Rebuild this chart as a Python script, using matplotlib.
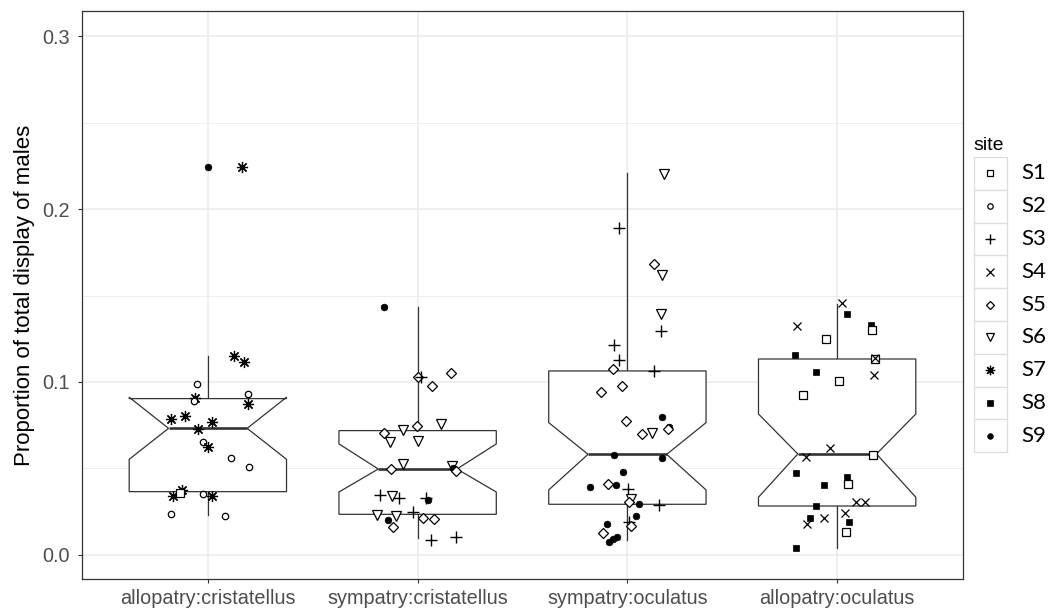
import matplotlib
matplotlib.use("Agg")
import matplotlib.pyplot as plt
from matplotlib.lines import Line2D
from matplotlib.patches import Rectangle, Polygon
import numpy as np

# ---------------- data ----------------
categories = ["allopatry:cristatellus", "sympatry:cristatellus",
              "sympatry:oculatus", "allopatry:oculatus"]
sites = ["S1", "S2", "S3", "S4", "S5", "S6", "S7", "S8", "S9"]

# box statistics (per category)
whisk_lo = [0.0231, 0.0096, 0.0087, 0.0039]
q1       = [0.0366, 0.0235, 0.0293, 0.0283]
notch_lo = [0.0553, 0.0364, 0.0376, 0.0334]
median   = [0.0732, 0.0497, 0.0582, 0.0584]
notch_hi = [0.0912, 0.0642, 0.0765, 0.0815]
q3       = [0.0904, 0.0719, 0.1064, 0.1133]
whisk_hi = [0.1150, 0.1435, 0.2206, 0.1451]

# jittered points: site, jitter offset, value (one set of lists per category)
g1_site = ["S9","S7","S7","S7","S2","S7","S2","S2","S7","S7","S7","S7","S7","S2",
           "S7","S2","S2","S7","S7","S1","S2","S7","S2","S2"]
g1_dx = [0.001,0.163,0.124,0.173,-0.054,-0.062,-0.065,0.192,0.192,-0.178,-0.110,0.020,
         -0.046,-0.025,-0.001,0.108,0.194,-0.168,-0.121,-0.133,-0.025,0.022,-0.178,0.080]
g1_y = [0.2241,0.2245,0.1150,0.1116,0.0987,0.0909,0.0892,0.0931,0.0871,0.0788,0.0805,
        0.0771,0.0727,0.0655,0.0626,0.0559,0.0511,0.0341,0.0376,0.0360,0.0351,0.0343,
        0.0235,0.0225]

g2_site = ["S9","S5","S3","S5","S5","S5","S6","S6","S5","S6","S6","S6","S5","S6","S9",
           "S5","S3","S6","S3","S3","S9","S3","S6","S6","S9","S5","S5","S5","S3","S3"]
g2_dx = [-0.162,0.003,0.018,0.161,0.068,-0.005,0.110,-0.070,-0.159,-0.132,0.001,-0.070,
         -0.125,0.165,0.168,0.181,-0.178,-0.121,-0.089,0.041,0.051,-0.022,-0.192,-0.105,
         -0.140,-0.118,0.025,0.078,0.062,0.181]
g2_y = [0.1432,0.1027,0.1029,0.1050,0.0977,0.0747,0.0757,0.0724,0.0703,0.0651,0.0661,
        0.0528,0.0497,0.0516,0.0501,0.0487,0.0349,0.0341,0.0329,0.0328,0.0316,0.0247,
        0.0229,0.0225,0.0202,0.0164,0.0212,0.0206,0.0087,0.0102]

g3_site = ["S6","S3","S5","S6","S6","S3","S3","S3","S5","S3","S5","S5","S5","S9","S5",
           "S6","S9","S5","S9","S9","S9","S9","S5","S9","S3","S6","S5","S9","S3","S9",
           "S3","S5","S9","S5","S9","S9","S9"]
g3_dx = [0.173,-0.038,0.129,0.165,0.161,0.161,-0.062,-0.038,-0.067,0.129,-0.025,-0.127,
         -0.006,0.165,0.068,0.116,0.199,0.192,-0.062,0.165,-0.022,-0.176,-0.094,-0.054,
         0.001,0.019,0.010,0.057,0.149,0.041,0.010,0.018,-0.097,-0.114,-0.086,-0.070,-0.051]
g3_y = [0.2201,0.1892,0.1682,0.1620,0.1395,0.1295,0.1214,0.1127,0.1073,0.1064,0.0979,
        0.0940,0.0776,0.0796,0.0699,0.0707,0.0738,0.0727,0.0576,0.0559,0.0478,0.0395,
        0.0410,0.0405,0.0380,0.0323,0.0306,0.0295,0.0289,0.0225,0.0192,0.0168,0.0177,
        0.0125,0.0077,0.0091,0.0106]

g4_site = ["S4","S8","S4","S8","S1","S1","S8","S1","S4","S8","S1","S4","S1","S4","S4",
           "S1","S8","S8","S1","S8","S4","S4","S8","S8","S4","S4","S4","S8","S1","S8"]
g4_dx = [0.025,0.049,-0.192,0.163,0.165,-0.054,-0.200,0.180,0.181,-0.099,0.010,0.178,
         -0.161,-0.035,-0.149,0.172,-0.197,0.049,0.052,-0.061,0.089,0.132,-0.099,-0.130,
         -0.142,-0.061,0.038,0.057,0.041,-0.197]
g4_y = [0.1455,0.1393,0.1324,0.1329,0.1301,0.1250,0.1156,0.1133,0.1139,0.1060,0.1008,
        0.1039,0.0925,0.0617,0.0568,0.0580,0.0476,0.0453,0.0410,0.0405,0.0308,0.0308,
        0.0283,0.0212,0.0177,0.0216,0.0241,0.0193,0.0135,0.0042]

groups_site = [g1_site, g2_site, g3_site, g4_site]
groups_dx = [g1_dx, g2_dx, g3_dx, g4_dx]
groups_y = [g1_y, g2_y, g3_y, g4_y]

y_ticks = [0.0, 0.1, 0.2, 0.3]
y_label = "Proportion of total display of males"

# ---------------- styles ----------------
W, H = 1062, 609
marker_style = {
    "S1": dict(marker="s", ms=5.2, mfc="white", mec="black", mew=0.9),
    "S2": dict(marker="o", ms=4.6, mfc="white", mec="black", mew=0.9),
    "S3": dict(marker="+", ms=8.0, mfc="none", mec="black", mew=1.0),
    "S4": dict(marker="x", ms=6.0, mfc="none", mec="black", mew=0.9),
    "S5": dict(marker="D", ms=5.2, mfc="white", mec="black", mew=0.9),
    "S6": dict(marker="v", ms=6.8, mfc="white", mec="black", mew=0.9),
    "S7": dict(marker=(8, 2, 0), ms=8.0, mfc="none", mec="black", mew=0.9),
    "S8": dict(marker="s", ms=4.5, mfc="black", mec="black", mew=0.5),
    "S9": dict(marker="o", ms=4.8, mfc="black", mec="black", mew=0.5),
}

line_col = "#333333"
grid_col = "#EBEBEB"
tick_col = "#4D4D4D"

fig = plt.figure(figsize=(W / 100, H / 100), dpi=100)
ax = fig.add_axes([82 / W, 1 - 579 / H, (963 - 82) / W, (579 - 11) / H])

positions = np.arange(1, len(categories) + 1)
half_w = 0.375
notch_w = 0.5

for i, p in enumerate(positions):
    xmin, xmax = p - half_w, p + half_w
    indent = (1 - notch_w) * (xmax - xmin) / 2
    # whiskers
    ax.plot([p, p], [q3[i], whisk_hi[i]], color=line_col, lw=0.9, zorder=2)
    ax.plot([p, p], [whisk_lo[i], q1[i]], color=line_col, lw=0.9, zorder=2)
    xs = [xmin, xmin, xmin + indent, xmin, xmin, xmax, xmax, xmax - indent, xmax, xmax, xmin]
    ys = [q3[i], notch_hi[i], median[i], notch_lo[i], q1[i], q1[i], notch_lo[i],
          median[i], notch_hi[i], q3[i], q3[i]]
    ax.add_patch(Polygon(np.column_stack([xs, ys]), closed=True, facecolor="white",
                         edgecolor=line_col, lw=0.9, zorder=2))
    ax.plot([xmin + indent, xmax - indent], [median[i], median[i]], color=line_col,
            lw=1.9, zorder=3, solid_capstyle="butt")

for i, p in enumerate(positions):
    for s, dx, y in zip(groups_site[i], groups_dx[i], groups_y[i]):
        st = marker_style[s]
        ax.plot([p + dx], [y], linestyle="none", zorder=4, **st)

ax.set_xlim(0.4, 4.6)
ax.set_ylim(-0.0139, 0.3145)
ax.set_xticks(positions)
ax.set_xticklabels(categories)
ax.set_yticks(y_ticks)
ax.set_yticklabels([f"{t:.1f}" for t in y_ticks])
ax.set_yticks([0.05, 0.15, 0.25], minor=True)
ax.grid(True, which="major", color=grid_col, lw=1.1, zorder=0)
ax.grid(True, which="minor", axis="y", color=grid_col, lw=0.6, zorder=0)
ax.set_axisbelow(True)
ax.tick_params(axis="both", which="major", length=3, width=0.8, color=line_col,
               labelcolor=tick_col, labelsize=14.3, pad=4)
ax.tick_params(axis="y", which="major", pad=6)
ax.tick_params(axis="both", which="minor", length=0)
for lbl in ax.get_xticklabels() + ax.get_yticklabels():
    lbl.set_fontfamily("Liberation Sans")
for sp in ax.spines.values():
    sp.set_color(line_col)
    sp.set_linewidth(0.9)
ax.set_ylabel(y_label, fontsize=16, family="Liberation Sans", color="black", labelpad=5)

# ---------------- legend (drawn like ggplot keys) ----------------
def fx(x):
    return x / W

def fy(y):
    return 1 - y / H

fig.text(fx(973), fy(145), "site", fontsize=14, family="Liberation Sans",
         ha="left", va="center", color="black")
key_top = 157.0
key_h = 32.8
for k, s in enumerate(sites):
    y0 = key_top + k * key_h
    fig.add_artist(Rectangle((fx(973.5), fy(y0 + key_h)), (1006.5 - 973.5) / W, key_h / H,
                             transform=fig.transFigure, facecolor="white",
                             edgecolor="#DDDDDD", lw=0.9))
    st = dict(marker_style[s])
    st["ms"] = st["ms"] * 0.85
    fig.add_artist(Line2D([fx(990)], [fy(y0 + key_h / 2)], transform=fig.transFigure,
                          linestyle="none", **st))
    fig.text(fx(1021), fy(y0 + key_h / 2), s, fontsize=16, family="Lato",
             ha="left", va="center", color="black")

fig.savefig("out.png", dpi=100)
